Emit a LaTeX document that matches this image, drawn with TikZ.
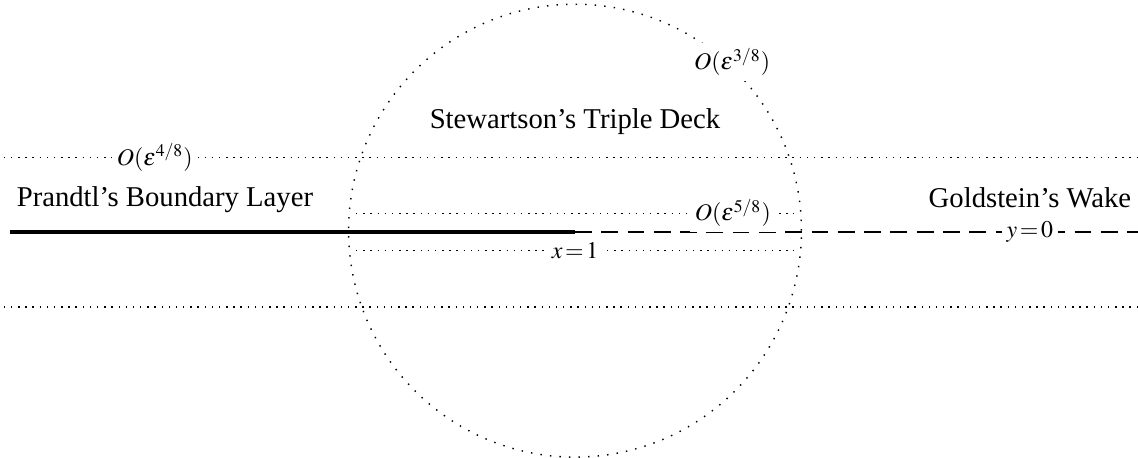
\documentclass[tikz,border=0pt]{standalone}
\usepackage{mathptmx}
\usepackage{fontspec}
\newfontfamily\timesrm{Liberation Serif}
\begin{document}
\begin{tikzpicture}[
  dotline/.style={line width=0.6pt,dash pattern=on 0.6pt off 2.4pt},
  dotcirc/.style={line width=0.6pt,dash pattern=on 0.6pt off 3.4pt},
  lbl/.style={fill=white,inner sep=2pt,font=\timesrm\normalsize},
  region/.style={font=\timesrm\large}]
\useasboundingbox (-8.456,-3.309) rectangle (8.279,3.412);

% layer boundaries
\coordinate (ul) at (-8.4,1.10);  \coordinate (ur) at (8.28,1.10);
\coordinate (ll) at (-8.4,-1.10); \coordinate (lr) at (8.28,-1.10);
\coordinate (il) at (-3.22,0.27);  \coordinate (ir) at (3.22,0.27);
\coordinate (jl) at (-3.22,-0.27); \coordinate (jr) at (3.22,-0.27);
\draw[dotline] (ul) -- (ur);
\draw[dotline] (ll) -- (lr);
\draw[dotline] (il) -- (ir);
\draw[dotline] (jl) -- (jr);

% triple deck
\draw[dotcirc] (0,0.02) circle (3.33);

% plate and wake
\coordinate (le) at (-8.31,0);
\coordinate (te) at (0,0);
\coordinate (we) at (8.28,0);
\draw[line width=2pt] (le) -- (te);
\draw[line width=0.8pt,dash pattern=on 7pt off 4pt] (te) -- (we);

\node[lbl] (eps4) at (-6.18,1.10) {$O(\varepsilon^{4/8})$};
\node[lbl] (eps3) at (2.31,2.5) {$O(\varepsilon^{3/8})$};
\node[lbl] (eps5) at (2.32,0.28) {$O(\varepsilon^{5/8})$};
\node[lbl] (xone) at (0,-0.27) {$x\!=\!1$};
\node[lbl] (yzero) at (6.69,0) {$y\!=\!0$};

\node[region] (tdeck) at (0,1.62) {Stewartson’s Triple Deck};
\node[region] (blayer) at (-6.03,0.47) {Prandtl’s Boundary Layer};
\node[region] (wake) at (6.69,0.50) {Goldstein’s Wake};
\end{tikzpicture}
\end{document}
